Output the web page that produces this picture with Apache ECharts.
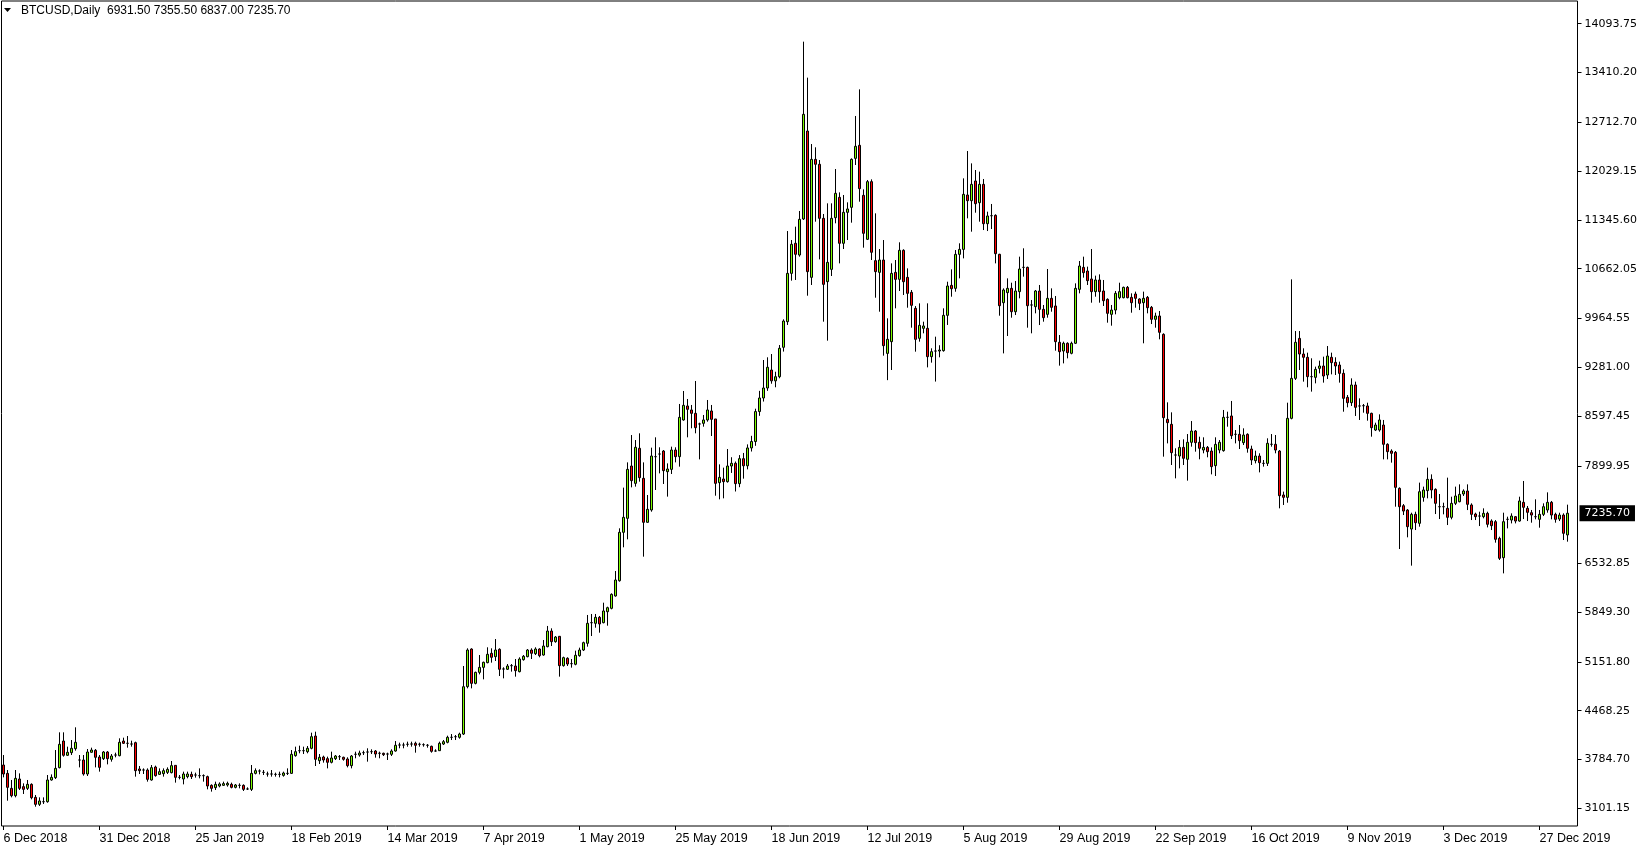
<!DOCTYPE html>
<html><head><meta charset="utf-8">
<script src="https://cdn.jsdelivr.net/npm/echarts@6/dist/echarts.min.js"></script>
<style>html,body{margin:0;padding:0;background:#fff;overflow:hidden}#c{width:1642px;height:850px}</style>
</head><body><div id="c"></div>
<script>
const symbolName = 'BTCUSD,Daily';
const xTickLabels = ['6 Dec 2018','31 Dec 2018','25 Jan 2019','18 Feb 2019','14 Mar 2019','7 Apr 2019','1 May 2019','25 May 2019','18 Jun 2019','12 Jul 2019','5 Aug 2019','29 Aug 2019','22 Sep 2019','16 Oct 2019','9 Nov 2019','3 Dec 2019','27 Dec 2019'];
const yTickValues = [14093.75,13410.20,12712.70,12029.15,11345.60,10662.05,9964.55,9281.00,8597.45,7899.95,6532.85,5849.30,5151.80,4468.25,3784.70,3101.15];

const openPrices = [3708,3591,3381,3278,3512,3405,3381,3437,3255,3157,3194,3194,3498,3531,3671,4044,3844,3881,3937,3778,
3778,3582,3886,3914,3820,3797,3890,3788,3848,3839,4044,4012,4002,4021,3652,3638,3638,3498,3680,3577,
3587,3605,3601,3703,3535,3512,3545,3577,3568,3559,3559,3545,3423,3391,3414,3423,3428,3437,3395,3423,
3423,3372,3367,3591,3624,3605,3582,3582,3577,3577,3563,3591,3591,3839,3909,3909,3895,3942,4114,3769,
3820,3797,3746,3797,3825,3816,3792,3699,3858,3848,3881,3890,3895,3904,3872,3872,3862,3858,3904,3988,
3988,3998,4002,4012,3998,3993,3984,3970,3904,3909,4002,4026,4096,4105,4096,4142,4806,5333,4852,5006,
5076,5142,5273,5226,5329,5053,5049,5100,5095,5016,5184,5226,5319,5268,5333,5249,5366,5585,5436,5511,
5100,5203,5128,5119,5240,5319,5413,5702,5693,5777,5702,5856,5903,6076,6290,6968,7164,7897,7654,8145,
7724,7108,7281,8028,8065,8107,7818,7850,8121,8028,8542,8738,8682,8635,8486,8495,8542,8668,8556,7664,
7715,7678,7897,7935,7650,8000,7900,8150,8240,8660,8850,8990,9242,9090,9148,9560,9919,10596,11017,10853,
11358,12590,10540,12193,12124,11367,10480,10652,11376,11661,11017,11451,11521,12207,12390,11689,11073,11881,10774,10610,
10783,9475,9639,10610,10512,10919,10540,10330,10106,9686,9826,9826,9429,9508,9508,9513,10008,10428,10386,10862,
10932,11694,11614,11890,11586,11843,11292,11404,11409,10863,10185,10326,10386,10059,10340,10680,10680,10153,10129,10349,
10092,10022,10246,10139,9630,9508,9616,9476,9616,10372,10680,10629,10517,10340,10503,10349,10232,10022,10082,10255,
10255,10400,10260,10307,10237,10185,10260,10120,9952,9999,9742,8551,8481,8051,8037,8158,7991,8229,8387,8229,
8121,8158,8107,7902,8121,8112,8579,8598,8341,8341,8224,8341,8135,7972,8037,7934,7934,8201,8201,8107,
7491,7458,8565,9125,9685,9466,9420,9149,9139,9265,9298,9172,9420,9349,9312,9195,8859,8784,9032,8738,
8742,8738,8635,8401,8401,8471,8201,8107,8089,7584,7341,7280,7014,7220,7094,7458,7552,7710,7570,7327,
7327,7304,7178,7374,7397,7505,7547,7351,7224,7196,7187,7234,7127,7117,6884,6613,7150,7140,7187,7126,
7388,7304,7243,7187,7150,7220,7281,7388,7220,7154,7210,6931.5];

const highPrices = [3848,3638,3498,3638,3591,3451,3498,3451,3288,3255,3255,3568,3577,3918,4166,4166,3965,4058,4236,3848,
3848,3932,3951,3932,3848,3904,3904,3862,3881,4082,4091,4114,4049,4035,3694,3661,3661,3708,3699,3661,
3661,3675,3764,3703,3568,3615,3615,3615,3601,3661,3577,3559,3437,3475,3465,3475,3475,3461,3442,3451,
3437,3395,3708,3661,3647,3638,3615,3638,3601,3615,3615,3661,3918,3965,3979,3965,3974,4161,4175,3862,
3839,3825,3895,3848,3848,3825,3816,3848,3895,3909,3909,3942,3928,3918,3895,3881,3881,3928,4044,4021,
4021,4035,4035,4035,4021,4012,4002,3979,3928,4035,4058,4119,4142,4128,4161,5095,5343,5343,5016,5249,
5156,5357,5343,5473,5343,5077,5123,5123,5193,5217,5249,5333,5343,5357,5343,5459,5656,5623,5515,5515,
5226,5217,5193,5310,5352,5436,5810,5824,5824,5796,5982,5926,6113,6426,7024,7594,7948,8331,8261,8355,
7948,7491,8154,8299,8159,8121,7934,8168,8159,8766,8948,8836,8752,9088,8504,8612,8822,8752,8556,7920,
7874,8135,8020,7960,8050,8080,8200,8320,8700,8950,9382,9420,9466,9218,9592,9952,11189,11063,11250,11470,
13842,13338,12408,12362,12184,11428,11577,11577,12058,11731,11694,11591,12207,12801,13174,11773,11904,11913,11437,10937,
11063,9966,10736,10783,11031,10933,10666,10363,10138,10176,9919,10176,9546,9709,9589,10106,10479,10652,10923,11017,
11927,12310,12137,12044,12021,11918,11460,11568,11423,10870,10386,10526,10465,10489,10830,10947,10690,10223,10363,10433,
10153,10657,10386,10279,9732,9639,9630,9639,10456,10769,10830,10690,10937,10564,10582,10503,10246,10153,10349,10465,
10410,10419,10316,10340,10246,10340,10279,10139,10045,10069,9756,8789,8649,8145,8261,8271,8345,8527,8401,8308,
8299,8177,8158,8299,8261,8682,8658,8808,8401,8471,8425,8355,8182,8112,8075,7981,8285,8345,8331,8121,
7538,8784,10512,9788,9788,9546,9485,9406,9289,9373,9429,9578,9485,9420,9359,9251,8892,9125,9079,8845,
8766,8784,8644,8504,8621,8542,8215,8131,8107,7598,7364,7294,7243,7257,7664,7608,7874,7780,7584,7505,
7383,7734,7467,7608,7640,7570,7640,7374,7243,7257,7304,7257,7150,7140,6907,7243,7187,7234,7196,7467,
7687,7337,7281,7430,7281,7374,7528,7407,7243,7243,7234,7355.5];

const lowPrices = [3535,3208,3255,3255,3358,3302,3358,3227,3124,3134,3162,3180,3489,3512,3661,3825,3834,3848,3909,3675,
3559,3554,3881,3675,3615,3778,3717,3755,3816,3830,4002,3951,3965,3545,3582,3582,3475,3489,3545,3568,
3545,3582,3591,3461,3507,3437,3521,3512,3531,3521,3475,3367,3335,3358,3395,3414,3405,3381,3381,3381,
3344,3358,3344,3577,3577,3568,3545,3545,3545,3535,3545,3568,3582,3825,3872,3862,3872,3928,3694,3722,
3741,3661,3731,3778,3778,3769,3675,3661,3802,3825,3848,3755,3862,3811,3802,3834,3778,3834,3895,3942,
3942,3965,3965,3881,3965,3965,3951,3881,3895,3904,3988,4012,4058,4058,4077,4128,4782,4782,4838,4978,
4908,5133,5142,5165,4955,4922,5039,5016,4946,5006,5170,5217,5193,5249,5217,5240,5357,5375,5422,4946,
5086,5095,5072,5105,5226,5305,5366,5515,5632,5562,5693,5660,5889,6067,6277,6758,6870,7598,7608,7678,
6627,7103,7257,7561,7794,7645,7468,7785,7948,7888,8532,8299,8425,8355,7990,8448,8518,8317,7481,7430,
7444,7664,7800,7540,7600,7720,7850,8100,8180,8600,8800,8950,9050,9000,9126,9500,9873,10494,10503,10830,
11344,10283,10433,11320,10792,9919,9653,10559,11297,10736,10937,11063,11306,12114,11600,10956,11063,10783,10255,10059,
9443,9100,9242,10106,10349,10293,10115,9835,9499,9639,9756,9279,9345,9080,9420,9499,9873,10269,10339,10526,
10806,11367,11180,11446,11320,11203,11189,11217,10736,10003,9475,9718,9975,10012,10246,10550,9835,9756,10036,9872,
9919,9975,10059,9513,9303,9335,9405,9462,9606,10316,10536,10433,10185,10269,10185,10139,9905,9863,10022,10232,
10246,10246,10045,10115,10082,9616,10036,9886,9835,9672,8028,8214,7911,7724,7864,7911,7692,8168,8098,7991,
8075,8019,7780,7757,8075,8098,8448,8275,8214,8135,8191,8084,7911,7934,7808,7888,7897,8168,8075,7304,
7351,7383,8551,9102,9242,9079,9000,8939,9055,9195,9065,9116,9181,9172,9065,8658,8719,8738,8598,8542,
8644,8532,8308,8387,8378,7990,7990,7944,7327,6734,7210,6898,6501,7000,7047,7397,7444,7444,7224,7154,
7220,7070,7150,7350,7388,7477,7280,7140,7140,7056,7164,7037,7000,6823,6580,6393,7023,7093,7093,7117,
7154,7126,7103,7150,7033,7196,7243,7150,7103,7126,6860,6837];

const closePrices = [3582,3395,3278,3521,3381,3367,3437,3250,3157,3204,3194,3498,3535,3661,3998,3844,3886,3942,4026,3778,
3582,3890,3918,3816,3675,3890,3797,3834,3848,4026,4012,4012,4002,3629,3629,3638,3507,3671,3559,3615,
3629,3647,3699,3535,3535,3582,3582,3545,3568,3559,3559,3414,3381,3437,3442,3447,3451,3395,3428,3423,
3367,3372,3591,3629,3624,3605,3582,3582,3577,3577,3596,3591,3858,3895,3909,3909,3942,4105,3788,3816,
3778,3746,3806,3834,3825,3788,3699,3834,3858,3876,3881,3890,3895,3862,3872,3853,3862,3904,3984,3988,
3988,3998,4002,3984,3998,3993,3984,3900,3904,4012,4035,4096,4096,4105,4142,4805,5319,4852,5006,5076,
5147,5259,5217,5319,5049,5053,5095,5100,5030,5193,5231,5319,5273,5333,5240,5375,5585,5436,5501,5100,
5212,5123,5128,5245,5319,5422,5693,5702,5777,5684,5866,5912,6099,6300,6968,7178,7850,7692,8159,7734,
7108,7290,8037,8028,8065,7832,7855,8121,8028,8579,8747,8691,8635,8434,8486,8542,8682,8551,7654,7738,
7678,7897,7935,7650,8000,7900,8150,8240,8660,8850,8990,9280,9090,9148,9546,9928,10596,11003,10863,11353,
12824,10620,12193,12124,11367,10442,10750,11367,11717,11017,11451,11498,12193,12376,11783,11157,11881,10891,10620,10783,
9583,9672,10596,10512,10919,10479,10316,10148,9672,9868,9859,9429,9499,9508,9522,10008,10419,10381,10862,10932,
11703,11614,11843,11572,11843,11292,11400,11404,10872,10143,10363,10386,10059,10349,10657,10680,10143,10153,10349,10092,
9975,10246,10120,9639,9499,9616,9485,9616,10386,10699,10606,10494,10340,10503,10340,10213,10036,10082,10316,10340,
10400,10255,10185,10246,10176,10246,10115,9952,9999,9770,8574,8504,8084,8051,8158,8005,8229,8387,8224,8145,
8158,8098,7888,8200,8229,8579,8579,8322,8341,8252,8331,8145,7981,8037,7944,7934,8215,8201,8121,7481,
7458,8565,9125,9630,9466,9420,9149,9149,9251,9298,9158,9438,9345,9298,9195,8845,8784,9032,8719,8738,
8742,8635,8434,8471,8542,8201,8098,8075,7598,7327,7266,7047,7220,7103,7537,7561,7710,7561,7374,7327,
7327,7178,7374,7477,7500,7547,7360,7220,7187,7196,7234,7080,7061,6870,6604,7117,7150,7196,7126,7407,
7318,7248,7210,7187,7220,7327,7388,7210,7150,7210,6954,7235.7];

const extraSlots = 2;
const barIndex = [];
for (let i = 0; i < openPrices.length + extraSlots; i++) barIndex.push(i);
const candles = openPrices.map((o, i) => [o, closePrices[i], lowPrices[i], highPrices[i]]);
const last = openPrices.length - 1;
const lastPrice = closePrices[last];

const chart = echarts.init(document.getElementById('c'), null, {renderer: 'canvas'});
const gridTop = 1, gridBottom = 24, pxPerUnit = 14.01, refPrice = 14093.75, refY = 23.7;
const yMax = refPrice + (refY - gridTop) * pxPerUnit;
const yMin = refPrice - (850 - gridBottom - refY) * pxPerUnit;

chart.setOption({
  animation: false,
  backgroundColor: '#ffffff',
  grid: {left: 1.5, right: 64.5, top: gridTop, bottom: gridBottom, show: true, borderColor: '#000', borderWidth: 1, backgroundColor: 'transparent'},
  graphic: [
    {type: 'polygon', shape: {points: [[4, 8], [11, 8], [7.5, 12]]}, style: {fill: '#000'}},
    {type: 'text', left: 21, top: 5, style: {
      text: symbolName + '  ' + [openPrices[last], highPrices[last], lowPrices[last], closePrices[last]].map(v => v.toFixed(2)).join(' '),
      fill: '#000', font: '12px "Liberation Sans"'}}
  ],
  xAxis: {
    type: 'category', data: barIndex, boundaryGap: true,
    axisLine: {show: false},
    axisTick: {show: true, alignWithLabel: true, length: 4, lineStyle: {color: '#000'}, interval: (idx) => idx % 24 === 0},
    axisLabel: {
      interval: (idx) => idx % 24 === 0,
      formatter: (v, idx) => (idx % 24 === 0 && xTickLabels[idx / 24]) ? xTickLabels[idx / 24] : '',
      align: 'left', margin: 6, color: '#000', fontFamily: 'Liberation Sans', fontSize: 12.5
    },
    splitLine: {show: false}
  },
  yAxis: {
    type: 'value', position: 'right', min: yMin, max: yMax,
    axisLine: {show: false},
    axisTick: {show: true, length: 4, lineStyle: {color: '#000'}, customValues: yTickValues},
    axisLabel: {customValues: yTickValues, formatter: (v) => v.toFixed(2), margin: 7, color: '#000', fontFamily: 'DejaVu Sans', fontSize: 11},
    splitLine: {show: false}
  },
  series: [{
    type: 'candlestick', data: candles, barWidth: 2,
    itemStyle: {color: '#7CFC00', color0: '#FF0000', borderColor: '#000', borderColor0: '#000', borderColorDoji: '#000', borderWidth: 1},
    markLine: {
      silent: true, symbol: ['none', 'none'],
      lineStyle: {color: 'transparent', width: 0},
      label: {position: 'end', distance: 2, formatter: () => lastPrice.toFixed(2), backgroundColor: '#000', color: '#fff',
        fontFamily: 'DejaVu Sans', fontSize: 11, padding: [3, 5, 2, 5]},
      data: [{yAxis: lastPrice}]
    }
  }]
});
</script>
</body></html>
